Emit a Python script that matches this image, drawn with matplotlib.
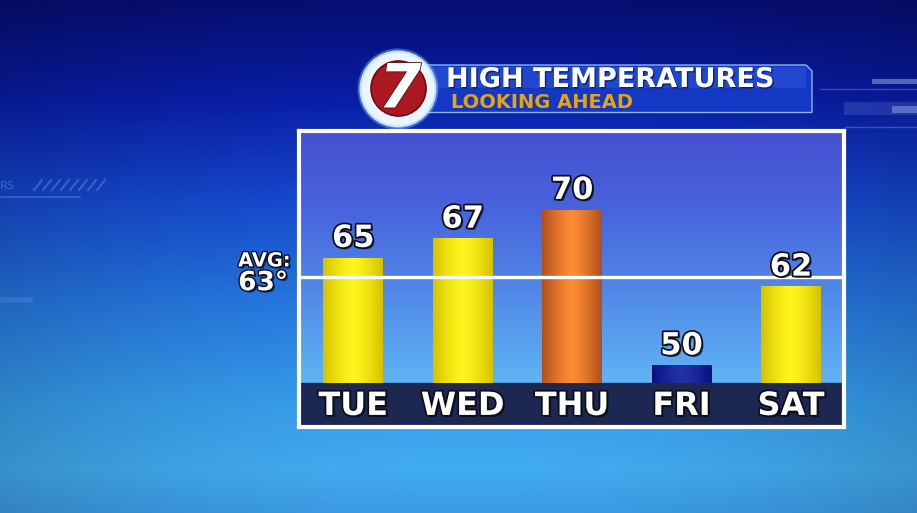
#!/usr/bin/env python3
"""
High temperatures - looking ahead (TV weather graphic)
"""
import numpy as np
import matplotlib
matplotlib.use("Agg")
import matplotlib.pyplot as plt
import matplotlib.patheffects as pe
from matplotlib.colors import LinearSegmentedColormap, to_rgb
from matplotlib.patches import Circle, Polygon, Rectangle

# data
days = ['TUE', 'WED', 'THU', 'FRI', 'SAT']
highs = [65, 67, 70, 50, 62]
avg_high = 63
title = 'HIGH TEMPERATURES'
subtitle = 'LOOKING AHEAD'

# the graphic does not draw below the day band, so very low bars get a stub
BASELINE = 52.0
BAR_FLOOR = 53.8

W, H = 917, 513
FONT = 'DejaVu Sans'

BAR_GRAD = {
    'yellow': ('#d6c200', '#fff71e'),
    'orange': ('#b14f1e', '#ff8c34'),
    'navy':   ('#0b1180', '#2232a8'),
}


def text_fx(lw=2.5):
    return [pe.SimplePatchShadow(offset=(1.5, -1.5), shadow_rgbFace='black', alpha=0.6),
            pe.Stroke(linewidth=lw, foreground='#0d0d1a'),
            pe.Normal()]


def background(ax):
    """Blue studio backdrop"""
    stops_y = [0, 100, 200, 300, 400, 470, 513]
    stops_c = [(6, 14, 112), (10, 30, 170), (22, 74, 208), (38, 120, 226),
               (55, 158, 236), (66, 172, 240), (60, 155, 228)]
    yy = np.arange(H)
    col = np.stack([np.interp(yy, stops_y, [c[i] for c in stops_c]) for i in range(3)], axis=1) / 255
    xx = np.arange(W)
    vign = 1 - 0.16 * ((xx - 470) / 470.0) ** 2
    img = col[:, None, :] * vign[None, :, None]
    ax.imshow(np.clip(img, 0, 1), extent=(0, W, H, 0), aspect='auto', zorder=0)

    # faint decoration
    dec = '#9ab8ff'
    ax.plot([0, 80], [197, 197], color=dec, lw=1.2, alpha=0.3)
    ax.text(0, 186, 'RS', color=dec, alpha=0.35, fontsize=8, va='center', family=FONT)
    for i in range(8):
        x0 = 34 + i * 9
        ax.plot([x0, x0 + 8], [190, 180], color=dec, lw=1.5, alpha=0.3)
    ax.plot([820, W], [89, 89], color=dec, lw=1, alpha=0.3)
    ax.add_patch(Rectangle((872, 79), 45, 5, color='#b0c4ff', alpha=0.45, lw=0))
    ax.add_patch(Rectangle((844, 102), 73, 13, color='#6a80d8', alpha=0.25, lw=0))
    ax.add_patch(Rectangle((892, 106), 25, 7, color='#b0c4ff', alpha=0.4, lw=0))
    ax.plot([845, W], [127, 127], color=dec, lw=1, alpha=0.3)
    ax.plot([0, 30], [300, 300], color=dec, lw=4, alpha=0.15)


def banner(ax):
    """Title banner and station logo"""
    pts = [(428, 65), (806, 65), (812, 71), (812, 112.5), (428, 112.5)]
    ax.add_patch(Polygon(pts, closed=True, facecolor='#1438c4', edgecolor='#8fb2f2',
                         lw=1.0, zorder=2))
    # slight sheen on the upper half
    ax.add_patch(Rectangle((430, 67), 376, 21, facecolor='#3c64e6', alpha=0.35, lw=0, zorder=2))
    ax.text(446, 80, title, color='white', fontsize=19.5, fontweight='bold',
            family=FONT, va='center', ha='left', zorder=3,
            path_effects=[pe.SimplePatchShadow(offset=(1, -1), shadow_rgbFace='#000833', alpha=0.6),
                          pe.Normal()])
    ax.text(451, 103, subtitle, color='#e4a310', fontsize=14, fontweight='bold',
            family=FONT, va='center', ha='left', zorder=3)

    # logo
    ax.add_patch(Circle((398, 89), 40.5, facecolor='#a9d6ff', alpha=0.35, lw=0, zorder=4))
    ax.add_patch(Circle((398, 89), 37.5, facecolor='#eaf6ff', edgecolor='#bfe2ff', lw=1.5, zorder=4))
    ax.add_patch(Circle((398.5, 88.5), 27.5, facecolor='#ac1820', edgecolor='#6c0a10', lw=1.2, zorder=5))
    ax.text(400, 91, '7', color='white', fontsize=44, fontweight='bold', fontstyle='italic',
            family=FONT, ha='center', va='center', zorder=6,
            path_effects=[pe.Stroke(linewidth=1.2, foreground='#5a0a0e'), pe.Normal()])


def chart(fig):
    left, right, top, bottom = 298.5, 843.5, 131.0, 426.5
    ax = fig.add_axes([left / W, 1 - bottom / H, (right - left) / W, (bottom - top) / H])
    ylo, yhi = 47.42, 78.2
    xlo, xhi = -0.5, 4.48

    # panel gradient
    panel = LinearSegmentedColormap.from_list(
        'panel', ['#6cc6fa', '#5aa6f0', '#4f82e6', '#4862dc', '#4650d0'])
    grad = np.linspace(0, 1, 256)[:, None]
    ax.imshow(grad, cmap=panel, extent=(xlo, xhi, ylo, yhi), origin='lower',
              aspect='auto', zorder=0)

    # day band
    ax.axhspan(ylo, BASELINE, color='#1d2852', zorder=1)

    x = np.arange(len(days))
    hot, cold = int(np.argmax(highs)), int(np.argmin(highs))
    shown = np.maximum(highs, BAR_FLOOR)
    bars = ax.bar(x, shown - BASELINE, bottom=BASELINE, width=0.548,
                  facecolor='none', edgecolor='none', zorder=2)
    prof = 1 - np.abs(np.linspace(-1, 1, 64)) ** 1.3
    for i, rect in enumerate(bars):
        kind = 'orange' if i == hot else 'navy' if i == cold else 'yellow'
        c0, c1 = (np.array(to_rgb(c)) for c in BAR_GRAD[kind])
        img = c0[None, None, :] + (c1 - c0)[None, None, :] * prof[None, :, None]
        x0 = rect.get_x()
        ax.imshow(img, extent=(x0, x0 + rect.get_width(), BASELINE, BASELINE + rect.get_height()),
                  aspect='auto', interpolation='bilinear', zorder=2, clip_path=rect)

    # average line
    ax.axhline(avg_high, color='white', lw=2.4, zorder=3)

    for xi, v, s in zip(x, highs, shown):
        ax.annotate(str(v), (xi, s), xytext=(0, 3.5), textcoords='offset points',
                    ha='center', va='bottom', color='white', fontsize=22, fontweight='bold',
                    family=FONT, zorder=4, path_effects=text_fx())

    for xi, d in zip(x, days):
        ax.text(xi, 0.068, d, transform=ax.get_xaxis_transform(), ha='center', va='center',
                color='white', fontsize=23, fontweight='bold', family=FONT, zorder=4,
                path_effects=text_fx())

    # average label, left of the box
    ax.annotate('AVG:', (0, avg_high), xycoords=('axes fraction', 'data'),
                xytext=(-24.5, 11.5), textcoords='offset points', ha='center', va='center',
                color='white', fontsize=14, fontweight='bold', family=FONT,
                annotation_clip=False, path_effects=text_fx(2))
    ax.annotate('63\u00b0', (0, avg_high), xycoords=('axes fraction', 'data'),
                xytext=(-25.5, -4.5), textcoords='offset points', ha='center', va='center',
                color='white', fontsize=19, fontweight='bold', family=FONT,
                annotation_clip=False, path_effects=text_fx(2))

    ax.set_xlim(xlo, xhi)
    ax.set_ylim(ylo, yhi)
    ax.set_xticks([])
    ax.set_yticks([])
    for sp in ax.spines.values():
        sp.set_color('white')
        sp.set_linewidth(3)
        sp.set_zorder(5)
    return ax


def main():
    fig = plt.figure(figsize=(W / 100, H / 100), dpi=100)
    ax_bg = fig.add_axes([0, 0, 1, 1])
    ax_bg.set_xlim(0, W)
    ax_bg.set_ylim(H, 0)
    ax_bg.axis('off')
    background(ax_bg)
    banner(ax_bg)
    chart(fig)
    fig.savefig('out.png', dpi=100)
    plt.close(fig)


if __name__ == "__main__":
    main()
